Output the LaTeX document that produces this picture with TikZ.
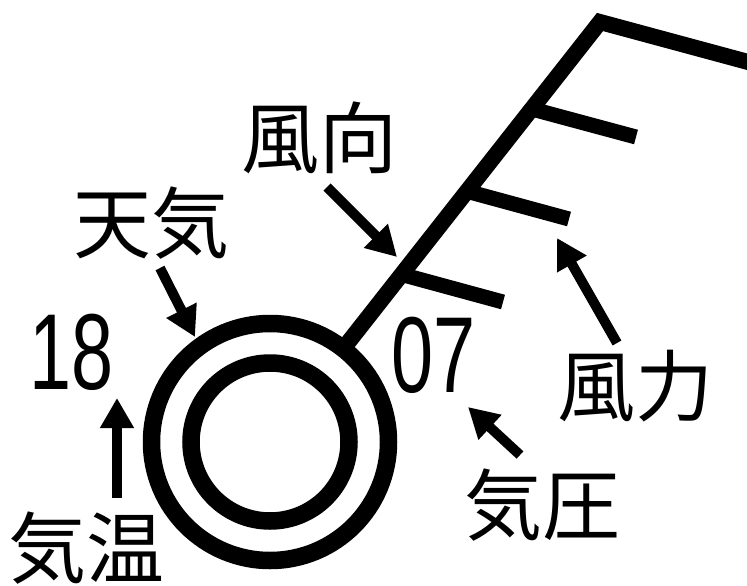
\documentclass[tikz,border=0pt]{standalone}
\usepackage{fontspec}
\setmainfont{Noto Sans CJK JP}
\newfontfamily\digitfont{Liberation Sans}
\usetikzlibrary{arrows.meta}
\tikzset{
  lbl/.style={inner sep=0pt, font=\fontsize{78}{78}\selectfont},
  num/.style={inner sep=0pt, font=\digitfont\fontsize{108}{108}\selectfont, xscale=0.7},
  ptr/.style={line width=10pt, -{Triangle[width=32pt,length=30pt]}},
  ring/.style={line width=17.5pt},
  staffline/.style={line width=16pt, line join=miter},
  barb/.style={line width=15pt}
}
\begin{document}
\begin{tikzpicture}[x=1pt,y=-1pt]
\useasboundingbox[fill=white] (0,0) rectangle (747,586);
% station circle
\coordinate (c) at (270,442);
\draw[ring] (c) circle[radius=118.5];
\draw[ring] (c) circle[radius=79];
% staff and barbs
\coordinate (s0) at (343,349);
\coordinate (s1) at (600,22);
\coordinate (e1) at (811,79);
\draw[staffline] (s0) -- (s1) -- (e1);
\coordinate (b1s) at (532,109); \coordinate (b1e) at (636,137);
\coordinate (b2s) at (466,191); \coordinate (b2e) at (569,219);
\coordinate (b3s) at (400,274); \coordinate (b3e) at (503,302);
\draw[barb] (b1s) -- (b1e);
\draw[barb] (b2s) -- (b2e);
\draw[barb] (b3s) -- (b3e);
% labels
\node[lbl] (fuko) at (319,138) {風向};
\node[lbl] (tenki) at (151,223) {天気};
\node[lbl] (furyoku) at (635,386) {風力};
\node[lbl] (kiatsu) at (542,505) {気圧};
\node[lbl] (kion) at (87,548) {気温};
\node[num] (t18) at (72,352) {18};
\node[num] (p07) at (434,355) {07};
% arrows
\coordinate (a1t) at (327,187); \coordinate (a1h) at (397,257);
\coordinate (a2t) at (160,268); \coordinate (a2h) at (195,337);
\coordinate (a3t) at (617,343); \coordinate (a3h) at (557,238);
\coordinate (a4t) at (520,455); \coordinate (a4h) at (468,407);
\coordinate (a5t) at (117,498); \coordinate (a5h) at (117,398);
\draw[ptr] (a1t) -- (a1h);
\draw[ptr] (a2t) -- (a2h);
\draw[ptr] (a3t) -- (a3h);
\draw[ptr] (a4t) -- (a4h);
\draw[ptr] (a5t) -- (a5h);
\end{tikzpicture}
\end{document}
